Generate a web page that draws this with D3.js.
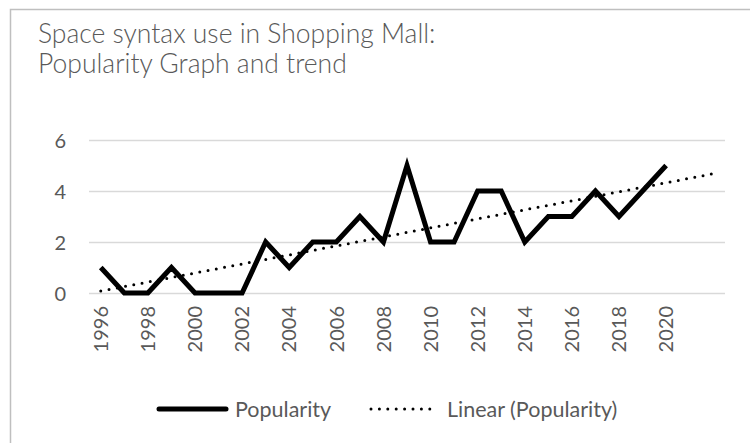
<!DOCTYPE html>
<html>
<head>
<meta charset="utf-8">
<script src="https://cdn.jsdelivr.net/npm/d3@7"></script>
<style>
	body { margin: 0; background: #fff; }
	#chart { width: 750px; height: 443px; }
	text { font-family: Lato, "Open Sans", sans-serif; fill: #595959; }
</style>
</head>
<body>
<div id="chart"></div>
<script>
// data
var years = [1996, 1997, 1998, 1999, 2000, 2001, 2002, 2003, 2004, 2005, 2006, 2007, 2008,
	2009, 2010, 2011, 2012, 2013, 2014, 2015, 2016, 2017, 2018, 2019, 2020];
var popularity = [1, 0, 0, 1, 0, 0, 0, 2, 1, 2, 2, 3, 2, 5, 2, 2, 4, 4, 2, 3, 3, 4, 3, 4, 5];
var forecastForward = 2; // trendline extended two periods past the data
var yTicks = [0, 2, 4, 6];
var xTickLabels = [1996, 1998, 2000, 2002, 2004, 2006, 2008, 2010, 2012, 2014, 2016, 2018, 2020];
var titleLines = ["Space syntax use in Shopping Mall:", "Popularity Graph and trend"];
var legendNames = ["Popularity", "Linear (Popularity)"];

drawChart("chart");

function drawChart(container){
	var width = 750, height = 443;
	var svg = d3.select("#" + container).append("svg")
		.attr("width", width)
		.attr("height", height);

	// chart area border (cut off at right and bottom in the reference)
	svg.append("rect")
		.attr("x", 10.5).attr("y", 9.5)
		.attr("width", 760).attr("height", 460)
		.attr("fill", "none")
		.attr("stroke", "#bfbfbf")
		.attr("stroke-width", 1.5);

	svg.selectAll(".title")
		.data(titleLines)
		.enter().append("text")
		.attr("class", "title")
		.attr("x", 38)
		.attr("y", function(d, i){ return 43 + i*30; })
		.style("font-size", "26.5px")
		.style("font-weight", 300)
		.text(function(d){ return d; });

	// categories include the forecast periods (unlabelled)
	var slots = d3.range(0, years.length + forecastForward);
	var x = d3.scaleBand().domain(slots).range([89, 725]).padding(0);
	var cx = function(i){ return x(i) + x.bandwidth()/2; };
	var y = d3.scaleLinear().domain([0, 6]).range([293, 140]);

	// gridlines
	svg.selectAll(".grid")
		.data(yTicks)
		.enter().append("line")
		.attr("class", "grid")
		.attr("x1", 89).attr("x2", 725)
		.attr("y1", function(d){ return Math.round(y(d)) + 0.5; })
		.attr("y2", function(d){ return Math.round(y(d)) + 0.5; })
		.attr("stroke", "#d9d9d9")
		.attr("stroke-width", 1.3);

	var yAxis = svg.append("g")
		.attr("transform", "translate(89,0)")
		.call(d3.axisLeft(y).tickValues(yTicks).tickSize(0).tickPadding(23)
			.tickFormat(d3.format("d")));
	yAxis.select(".domain").remove();
	yAxis.selectAll("text")
		.style("font-size", "20px")
		.style("font-family", "Lato, sans-serif")
		.attr("fill", "#595959")
		.attr("dy", "0.36em");

	var labelIndex = xTickLabels.map(function(yr){ return years.indexOf(yr); });
	var xAxis = svg.append("g")
		.attr("transform", "translate(0," + y(0) + ")")
		.call(d3.axisBottom(x).tickValues(labelIndex).tickSize(0)
			.tickFormat(function(i){ return years[i]; }));
	xAxis.select(".domain").remove();
	xAxis.selectAll("text")
		.style("font-size", "20px")
		.style("font-family", "Lato, sans-serif")
		.attr("fill", "#595959")
		.attr("text-anchor", "end")
		.attr("transform", "rotate(-90)")
		.attr("x", -13)
		.attr("y", 0)
		.attr("dy", "0.36em");

	// least-squares trend on period index 1..n, as the spreadsheet does
	var n = popularity.length;
	var mx = d3.mean(popularity, function(d, i){ return i + 1; });
	var my = d3.mean(popularity);
	var sxy = d3.sum(popularity, function(d, i){ return (i + 1 - mx)*(d - my); });
	var sxx = d3.sum(popularity, function(d, i){ return (i + 1 - mx)*(i + 1 - mx); });
	var slope = sxy/sxx, intercept = my - slope*mx;
	var trendSlots = [0, n - 1 + forecastForward];

	var line = d3.line()
		.x(function(d, i){ return cx(i); })
		.y(function(d){ return y(d); });

	svg.append("path")
		.datum(trendSlots)
		.attr("d", d3.line()
			.x(function(s){ return cx(s); })
			.y(function(s){ return y(intercept + slope*(s + 1)); }))
		.attr("fill", "none")
		.attr("stroke", "#000")
		.attr("stroke-width", 3)
		.attr("stroke-linecap", "round")
		.attr("stroke-dasharray", "0 8.4");

	svg.append("path")
		.datum(popularity)
		.attr("d", line)
		.attr("fill", "none")
		.attr("stroke", "#000")
		.attr("stroke-width", 5)
		.attr("stroke-linejoin", "miter");

	// legend
	var legend = svg.append("g").attr("transform", "translate(0,409)");
	legend.append("line")
		.attr("x1", 159).attr("x2", 226)
		.attr("stroke", "#000").attr("stroke-width", 5)
		.attr("stroke-linecap", "round");
	legend.append("text")
		.attr("x", 235).attr("dy", "0.36em")
		.style("font-size", "21.5px")
		.text(legendNames[0]);
	legend.append("line")
		.attr("x1", 371).attr("x2", 438)
		.attr("stroke", "#000").attr("stroke-width", 3)
		.attr("stroke-linecap", "round")
		.attr("stroke-dasharray", "0 8.4");
	legend.append("text")
		.attr("x", 447).attr("dy", "0.36em")
		.style("font-size", "21.5px")
		.text(legendNames[1]);
}
</script>
</body>
</html>
